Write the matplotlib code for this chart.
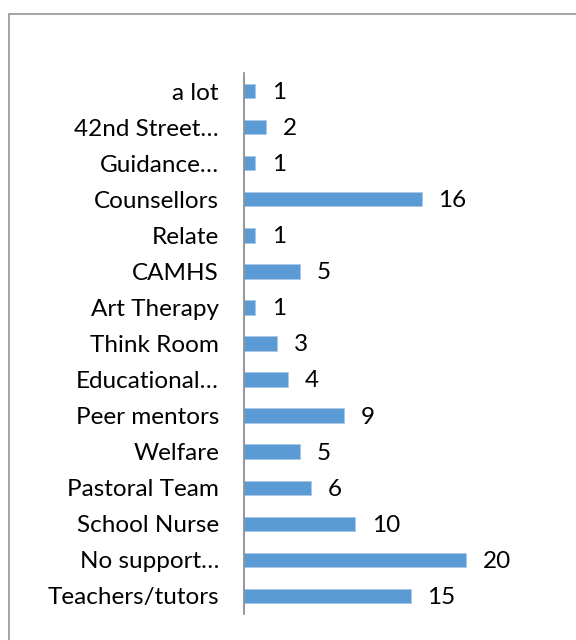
import matplotlib.pyplot as plt
from matplotlib.patches import Rectangle

# support sources, bottom to top as drawn
categories = ["Teachers/tutors", "No support\u2026", "School Nurse", "Pastoral Team",
              "Welfare", "Peer mentors", "Educational\u2026", "Think Room",
              "Art Therapy", "CAMHS", "Relate", "Counsellors", "Guidance\u2026",
              "42nd Street\u2026", "a lot"]
values = [15, 20, 10, 6, 5, 9, 4, 3, 1, 5, 1, 16, 1, 2, 1]

plt.rcParams['font.family'] = ['Lato', 'DejaVu Sans']

W, H = 576, 640
fig = plt.figure(figsize=(W / 100, H / 100), dpi=100)

# outer chart border (only left/top visible in the crop)
fig.patches.append(Rectangle((9 / W, -0.2), 2.0, 1 - 14 / H + 0.2,
                             transform=fig.transFigure, fill=False,
                             edgecolor='#8c8c8c', linewidth=1.1))

ax = fig.add_axes([244 / W, 1 - 614 / H, 277.5 / W, (614 - 73) / H])
y = list(range(len(categories)))
ax.barh(y, values, height=0.4, color='#5b9bd5', edgecolor='#a9c8e8', linewidth=0.6)

for yi, v in zip(y, values):
    ax.annotate(str(v), (v, yi), xytext=(12, -1), textcoords='offset points',
                va='center', ha='left', fontsize=17.5, color='#000000')

ax.set_xlim(0, 25)
ax.set_ylim(-0.5, len(categories) - 0.5)
ax.set_yticks(y)
ax.set_yticklabels(categories, fontsize=17.5)
ax.tick_params(axis='y', length=0, pad=18)
ax.set_xticks([])
for s in ['top', 'right', 'bottom']:
    ax.spines[s].set_visible(False)
ax.spines['left'].set_color('#868686')
ax.spines['left'].set_linewidth(1.2)

fig.savefig('out.png', dpi=100)
